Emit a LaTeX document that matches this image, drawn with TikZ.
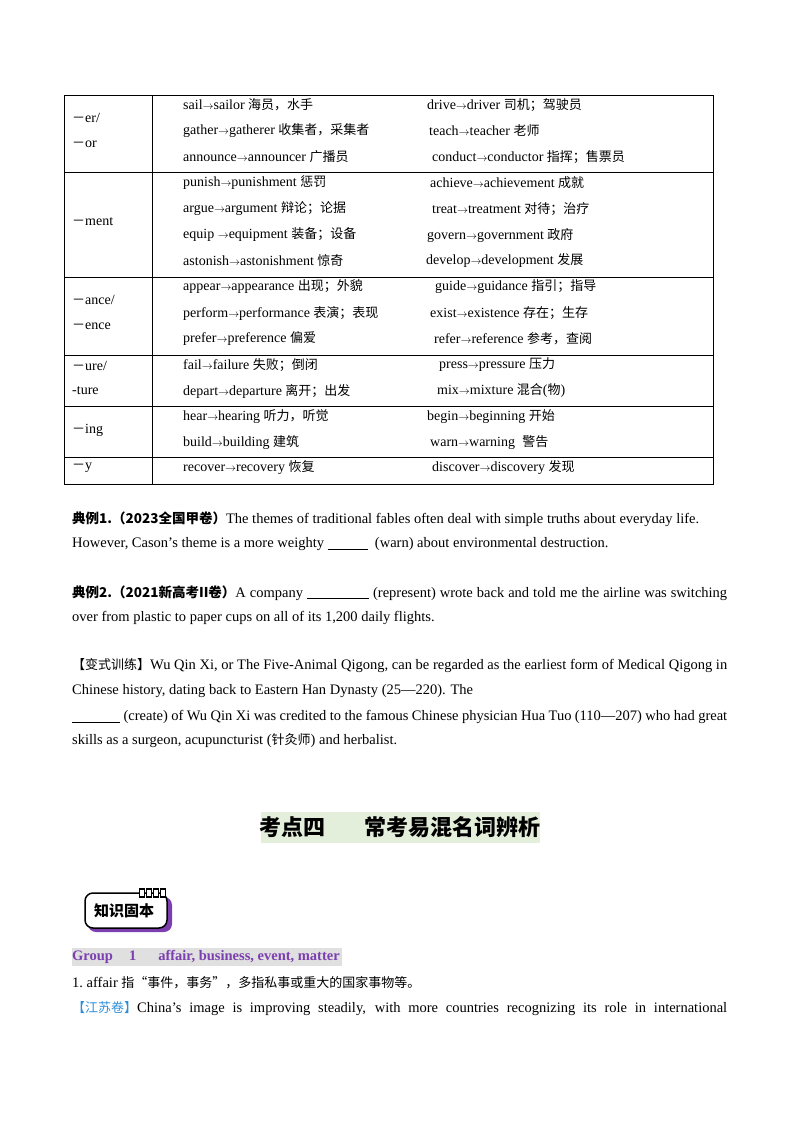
\documentclass[tikz,border=0pt]{standalone}
\usepackage{fontspec}
\setmainfont{Liberation Serif}
\newfontfamily\cjk{Noto Sans CJK SC}
\newcommand\zh[1]{{\cjk\fontsize{13}{14}\selectfont #1}}
\newcommand\zt[1]{\ \zh{#1}}
\newcommand\ar{{\fontsize{11}{11}\selectfont$\rightarrow$}}
\newcommand\dsh{\zh{－}}
\definecolor{purp}{HTML}{7B3FB0}
\definecolor{gbg}{HTML}{E3EEDB}
\definecolor{blu}{HTML}{2E8FD8}
\begin{document}
\begin{tikzpicture}[x=1pt,y=-1pt,
  t/.style={anchor=west,inner sep=0pt,font=\fontsize{14}{15}\selectfont},
  p/.style={anchor=west,inner sep=0pt,font=\fontsize{14.5}{17}\selectfont},
  c/.style={anchor=center,inner sep=0pt}]
\useasboundingbox (0,0) rectangle (800,1132);
% table
\draw[line width=0.8pt] (64,95) rectangle (713,484);
\draw[line width=0.8pt] (152,95) -- (152,484);
\foreach \y in {172,277,355,406,457} \draw[line width=0.8pt] (64,\y) -- (713,\y);
\node[t] (a1) at (72,118) {\dsh er/};
\node[t] (a2) at (72,144) {\dsh or};
\node[t] (b1) at (72,222) {\dsh ment};
\node[t] (c1) at (72,300) {\dsh ance/};
\node[t] (c2) at (72,326) {\dsh ence};
\node[t] (d1) at (72,366) {\dsh ure/};
\node[t] (d2) at (72,391) {-ture};
\node[t] (e1) at (72,430) {\dsh ing};
\node[t] (f1) at (72,468) {\dsh y};
\foreach \y/\l/\xr/\r in {
 105/{sail\ar sailor\zt{海员，水手}}/427/{drive\ar driver\zt{司机；驾驶员}},
 131/{gather\ar gatherer\zt{收集者，采集者}}/429/{teach\ar teacher\zt{老师}},
 157/{announce\ar announcer\zt{广播员}}/432/{conduct\ar conductor\zt{指挥；售票员}},
 183/{punish\ar punishment\zt{惩罚}}/430/{achieve\ar achievement\zt{成就}},
 209/{argue\ar argument\zt{辩论；论据}}/432/{treat\ar treatment\zt{对待；治疗}},
 235/{equip \ar equipment\zt{装备；设备}}/427/{govern\ar government\zt{政府}},
 261/{astonish\ar astonishment\zt{惊奇}}/426/{develop\ar development\zt{发展}},
 287/{appear\ar appearance\zt{出现；外貌}}/435/{guide\ar guidance\zt{指引；指导}},
 313/{perform\ar performance\zt{表演；表现}}/430/{exist\ar existence\zt{存在；生存}},
 339/{prefer\ar preference\zt{偏爱}}/434/{refer\ar reference\zt{参考，查阅}},
 365/{fail\ar failure\zt{失败；倒闭}}/439/{press\ar pressure\zt{压力}},
 391/{depart\ar departure\zt{离开；出发}}/437/{mix\ar mixture\zt{混合}(\zh{物})},
 417/{hear\ar hearing\zt{听力，听觉}}/427/{begin\ar beginning\zt{开始}},
 443/{build\ar building\zt{建筑}}/430/{warn\ar warning\;\zt{警告}},
 468/{recover\ar recovery\zt{恢复}}/432/{discover\ar discovery\zt{发现}}}
{\node[t] at (183,\y) {\l}; \node[t] at (\xr,\y) {\r};}
% examples
\node[p] (p1) at (72,519) {{\cjk\bfseries\fontsize{13.5}{15}\selectfont 典例1.（2023全国甲卷）}The themes of traditional fables often deal with simple truths about everyday life.};
\node[p] (p2) at (72,544) {However, Cason’s theme is a more weighty \underline{\hspace{40pt}}\ \ (warn) about environmental destruction.};
\node[p] (q1) at (72,593) {\makebox[655pt][s]{{\cjk\bfseries\fontsize{13.5}{15}\selectfont 典例2.（2021新高考II卷）}A company \underline{\hspace{62pt}} (represent) wrote back and told me the airline was switching}};
\node[p] (q2) at (72,618) {over from plastic to paper cups on all of its 1,200 daily flights.};
\node[p] (r1) at (72,666) {\makebox[655pt][s]{\zh{【变式训练】}Wu Qin Xi, or The Five-Animal Qigong, can be regarded as the earliest form of Medical Qigong in}};
\node[p] (r2) at (72,691) {Chinese history, dating back to Eastern Han Dynasty (25—220). The};
\node[p] (r3) at (72,717) {\makebox[655pt][s]{\textbf{\underline{\hspace{48pt}}} (create) of Wu Qin Xi was credited to the famous Chinese physician Hua Tuo (110—207) who had great}};
\node[p] (r4) at (72,741) {skills as a surgeon, acupuncturist (\zh{针灸师}) and herbalist.};
% heading
\fill[gbg] (261,812) rectangle (540,843);
\node[c] (h) at (400,827) {\cjk\bfseries\fontsize{22}{24}\selectfont 考点四\hspace{40pt}常考易混名词辨析};
% badge
\fill[purp,rounded corners=8pt] (88,897) rectangle (172,932);
\draw[line width=1.5pt,fill=white,rounded corners=8pt] (85,893) rectangle (167,928);
\foreach \x in {142,149,156,163} \draw[line width=1.2pt,fill=white] (\x-2.5,889) rectangle (\x+2.5,897);
\node[c] (bd) at (124,911) {\cjk\bfseries\fontsize{15}{17}\selectfont 知识固本};
% group
\fill[black!12] (72,948) rectangle (342,966);
\node[p,text=purp] (g) at (72,957) {\bfseries Group\hspace{16pt}1\hspace{22pt}affair,\ business,\ event,\ matter};
\node[p] (l1) at (72,983) {1.\ affair \zh{指“事件，事务”，多指私事或重大的国家事物等。}};
\node[p] (l2) at (72,1009) {\makebox[655pt][s]{\zh{\color{blu}【江苏卷】}China's image is improving steadily, with more countries recognizing its role in international}};
\end{tikzpicture}
\end{document}
